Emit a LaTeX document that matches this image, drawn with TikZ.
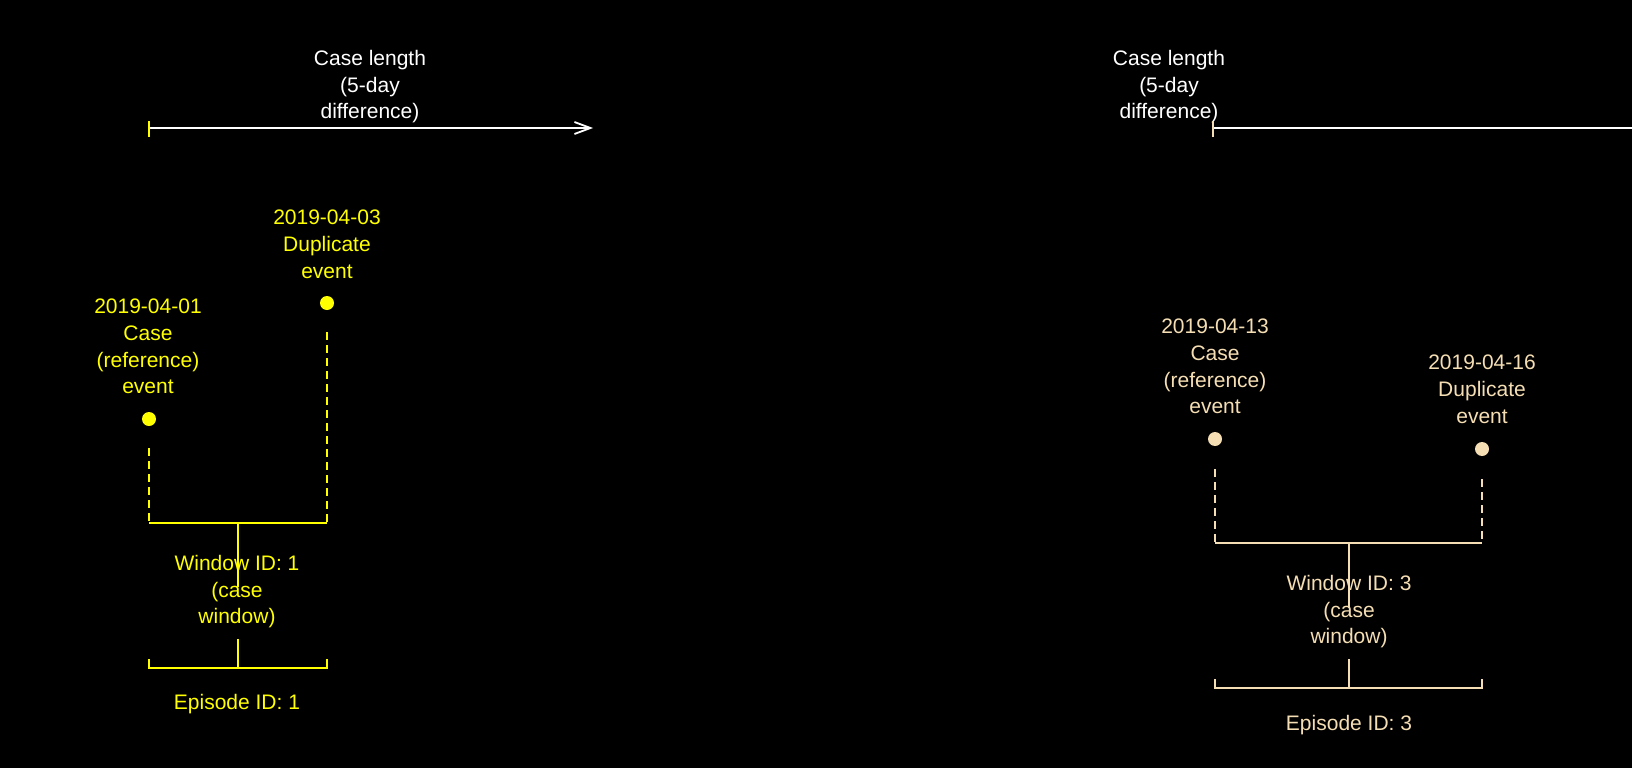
\documentclass[tikz,border=0pt]{standalone}
\usepackage{fontspec}
\setmainfont{Liberation Sans}
\usetikzlibrary{arrows.meta}
\definecolor{ylw}{HTML}{FFFF00}
\definecolor{wht}{HTML}{F5DEB3}
\begin{document}
\begin{tikzpicture}[x=1pt,y=-1pt,
  lbl/.style={font=\fontsize{21}{26.7}\selectfont, align=center, inner sep=0pt, anchor=north},
  evdot/.style={circle, fill, inner sep=0pt, minimum size=14pt},
  brk/.style={line width=1.8pt},
  dsh/.style={brk, dash pattern=on 8pt off 5pt},
  axis/.style={line width=1.8pt, white}]
\fill[black] (0,0) rectangle (1632,768);
\useasboundingbox (0,0) rectangle (1632,768);
\clip (0,0) rectangle (1632,768);

% ---------- left group (yellow) ----------
\begin{scope}[ylw]
\node[lbl, white] (clA) at (370,50) {Case length\\(5-day\\difference)};
\coordinate (tA1) at (149,121);
\coordinate (tA2) at (149,137);
\coordinate (aA0) at (149,128);
\coordinate (aA1) at (593,128);
\draw[axis, -{Straight Barb[length=16pt,width=12pt]}] (aA0) -- (aA1);
\draw[brk] (tA1) -- (tA2);

\node[evdot] (dA) at (149,419) {};
\node[evdot] (dB) at (327,303) {};
\node[lbl] (lA) at (148,299) {2019-04-01\\Case\\(reference)\\event};
\node[lbl] (lB) at (327,210) {2019-04-03\\Duplicate\\event};

\coordinate (dA1) at (149,448);
\coordinate (dB1) at (327,332);
\coordinate (bA) at (149,523);
\coordinate (bB) at (327,523);
\coordinate (bM) at (238,523);
\coordinate (bM1) at (238,587);
\draw[dsh] (dA1) -- (bA);
\draw[dsh] (dB1) -- (bB);
\draw[brk] (bA) -- (bB);
\draw[brk] (bM) -- (bM1);
\node[lbl] (wA) at (237,555) {Window ID: 1\\(case\\window)};

\coordinate (eM0) at (238,639);
\coordinate (eM) at (238,668);
\coordinate (eA) at (149,668);
\coordinate (eB) at (327,668);
\coordinate (eA1) at (149,659);
\coordinate (eB1) at (327,659);
\draw[brk] (eM0) -- (eM);
\draw[brk] (eA1) -- (eA) -- (eB) -- (eB1);
\node[lbl] (epA) at (237,694) {Episode ID: 1};
\end{scope}

% ---------- right group (wheat) ----------
\begin{scope}[wht]
\node[lbl, white] (clC) at (1169,50) {Case length\\(5-day\\difference)};
\coordinate (tC1) at (1213,121);
\coordinate (tC2) at (1213,137);
\coordinate (aC0) at (1213,128);
\coordinate (aC1) at (1640,128);
\draw[axis] (aC0) -- (aC1);
\draw[brk] (tC1) -- (tC2);

\node[evdot] (dC) at (1215,439) {};
\node[evdot] (dD) at (1482,449) {};
\node[lbl] (lC) at (1215,319) {2019-04-13\\Case\\(reference)\\event};
\node[lbl] (lD) at (1482,355) {2019-04-16\\Duplicate\\event};

\coordinate (dC1) at (1215,469);
\coordinate (dD1) at (1482,479);
\coordinate (bC) at (1215,543);
\coordinate (bD) at (1482,543);
\coordinate (bN) at (1349,543);
\coordinate (bN1) at (1349,608);
\draw[dsh] (dC1) -- (bC);
\draw[dsh] (dD1) -- (bD);
\draw[brk] (bC) -- (bD);
\draw[brk] (bN) -- (bN1);
\node[lbl] (wC) at (1349,575) {Window ID: 3\\(case\\window)};

\coordinate (eN0) at (1349,659);
\coordinate (eN) at (1349,688);
\coordinate (eC) at (1215,688);
\coordinate (eD) at (1482,688);
\coordinate (eC1) at (1215,679);
\coordinate (eD1) at (1482,679);
\draw[brk] (eN0) -- (eN);
\draw[brk] (eC1) -- (eC) -- (eD) -- (eD1);
\node[lbl] (epC) at (1349,715) {Episode ID: 3};
\end{scope}
\end{tikzpicture}
\end{document}
